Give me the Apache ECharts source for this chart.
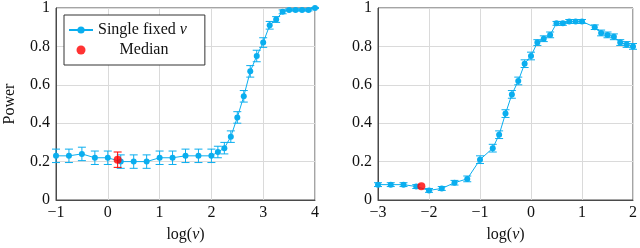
<!DOCTYPE html>
<html><head><meta charset="utf-8">
<script src="https://cdn.jsdelivr.net/npm/echarts@6/dist/echarts.min.js"></script>
<style>html,body{margin:0;padding:0;background:#fff}#c{width:640px;height:248px}</style>
</head><body><div id="c"></div>
<script>
// ---- data ----
const leftX = [-1,-0.75,-0.5,-0.25,0,0.25,0.5,0.75,1,1.25,1.5,1.75,2,2.125,2.25,2.375,2.5,2.625,2.75,2.875,3,3.125,3.25,3.375,3.5,3.625,3.75,3.875,4];
const leftY = [0.23,0.23,0.24,0.22,0.22,0.20,0.20,0.20,0.22,0.22,0.23,0.23,0.23,0.25,0.27,0.33,0.43,0.54,0.67,0.75,0.82,0.91,0.94,0.98,0.99,0.99,0.99,0.99,1.0];
const leftErr = [0.035,0.035,0.035,0.035,0.035,0.035,0.035,0.035,0.035,0.035,0.035,0.035,0.035,0.03,0.03,0.03,0.03,0.03,0.03,0.03,0.025,0.02,0.015,0.01,0.005,0.005,0.005,0.005,0.003];
const leftMedian = [0.19, 0.21, 0.04];
const rightX = [-3,-2.75,-2.5,-2.25,-2,-1.75,-1.5,-1.25,-1,-0.75,-0.625,-0.5,-0.375,-0.25,-0.125,0,0.125,0.25,0.375,0.5,0.625,0.75,0.875,1,1.25,1.375,1.5,1.625,1.75,1.875,2];
const rightY = [0.08,0.08,0.08,0.07,0.05,0.06,0.09,0.11,0.21,0.27,0.34,0.45,0.55,0.62,0.71,0.75,0.82,0.84,0.86,0.92,0.92,0.93,0.93,0.93,0.90,0.87,0.86,0.85,0.82,0.81,0.80];
const rightErr = [0.01,0.01,0.01,0.01,0.01,0.01,0.012,0.015,0.02,0.02,0.02,0.02,0.02,0.02,0.02,0.02,0.015,0.015,0.015,0.01,0.01,0.01,0.01,0.01,0.012,0.015,0.015,0.015,0.015,0.015,0.015];
const rightMedian = [-2.15, 0.071, 0.0];

const BLUE = '#0aaeef', RED = '#ff0000';
const FONT = "Liberation Serif";

function pairs(xs, ys){ return xs.map((x,i)=>[x, ys[i]]); }
function errData(xs, ys, es){ return xs.map((x,i)=>[x, ys[i]-es[i], ys[i]+es[i]]); }

function errRender(color){
  return function(params, api){
    const x = api.value(0), lo = api.value(1), hi = api.value(2);
    if (hi - lo < 0.004) return null;
    const a = api.coord([x, lo]), b = api.coord([x, hi]);
    const w = 4;
    const st = {stroke: color, lineWidth: 1};
    return {type:'group', children:[
      {type:'line', shape:{x1:a[0],y1:a[1],x2:b[0],y2:b[1]}, style:st},
      {type:'line', shape:{x1:a[0]-w,y1:a[1],x2:a[0]+w,y2:a[1]}, style:st},
      {type:'line', shape:{x1:b[0]-w,y1:b[1],x2:b[0]+w,y2:b[1]}, style:st}
    ]};
  };
}

const T = {fontFamily:FONT, fontSize:16, color:'#111'};
const rich = {
  n: Object.assign({}, T),
  i: Object.assign({fontStyle:'italic'}, T)
};
const fmtNum = v => { const r = +(+v).toFixed(1); return '{n|' + (r < 0 ? '\u2212' + Math.abs(r) : String(r)) + '}'; };

const axisCommon = {
  axisLine:{show:true, onZero:false, lineStyle:{color:'#4a4a4a', width:1}},
  axisTick:{show:false},
  splitLine:{show:true, lineStyle:{color:'#dadada', width:1}}
};

function xAxis(gi, min, max){
  return Object.assign({}, axisCommon, {
    type:'value', gridIndex:gi, min:min, max:max, interval:1,
    name:'{n|log(}{i|ν}{n|)}', nameLocation:'middle', nameGap:27,
    nameTextStyle:Object.assign({rich:rich}, T),
    axisLabel:Object.assign({margin:5, formatter:fmtNum, rich:rich}, T)
  });
}
function yAxis(gi, withName){
  return Object.assign({}, axisCommon, {
    type:'value', gridIndex:gi, min:0, max:1, interval:0.2,
    name: withName ? '{n|Power}' : '', nameLocation:'middle', nameGap:38,
    nameTextStyle:Object.assign({rich:rich}, T),
    axisLabel:Object.assign({margin:6, formatter:fmtNum, rich:rich}, T)
  });
}

const chart = echarts.init(document.getElementById('c'), null, {renderer:'canvas'});
chart.setOption({
  animation:false,
  textStyle:{fontFamily:FONT},
  grid:[
    {left:56, top:6, width:259, height:197, show:true, borderColor:'#4a4a4a', borderWidth:1, backgroundColor:'transparent'},
    {left:378, top:6, width:258, height:197, show:true, borderColor:'#4a4a4a', borderWidth:1, backgroundColor:'transparent'}
  ],
  xAxis:[xAxis(0,-1,4), xAxis(1,-3,2)],
  yAxis:[yAxis(0,true), yAxis(1,false)],
  legend:{
    left:64, top:15, orient:'vertical',
    backgroundColor:'#fff', borderColor:'#333', borderWidth:1, borderRadius:0,
    padding:[7,18,7,4], itemGap:4, itemWidth:24, itemHeight:9,
    data:['Single fixed ν','Median'],
    formatter: function(name){
      if (name === 'Median') return '{m|Median}';
      return '{n|Single fixed }{i|ν}';
    },
    textStyle:Object.assign({padding:0, rich:{
      n: Object.assign({}, T),
      i: Object.assign({fontStyle:'italic'}, T),
      m: Object.assign({width:92, align:'center'}, T)
    }}, T)
  },
  series:[
    {type:'custom', name:'errL', xAxisIndex:0, yAxisIndex:0, data:errData(leftX,leftY,leftErr), renderItem:errRender(BLUE), z:1, clip:false},
    {type:'line', name:'Single fixed ν', xAxisIndex:0, yAxisIndex:0, data:pairs(leftX,leftY),
      symbol:'circle', symbolSize:6, showAllSymbol:true, clip:false,
      lineStyle:{color:BLUE, width:1}, itemStyle:{color:BLUE}, z:2},
    {type:'custom', name:'errLM', xAxisIndex:0, yAxisIndex:0, data:[[leftMedian[0], leftMedian[1]-leftMedian[2], leftMedian[1]+leftMedian[2]]], renderItem:errRender(RED), z:3, clip:false},
    {type:'scatter', name:'Median', xAxisIndex:0, yAxisIndex:0, data:[[leftMedian[0], leftMedian[1]]],
      symbol:'circle', symbolSize:8, itemStyle:{color:RED}, z:4},
    {type:'custom', name:'errR', xAxisIndex:1, yAxisIndex:1, data:errData(rightX,rightY,rightErr), renderItem:errRender(BLUE), z:1, clip:false},
    {type:'line', name:'Single fixed ν', xAxisIndex:1, yAxisIndex:1, data:pairs(rightX,rightY),
      symbol:'circle', symbolSize:6, showAllSymbol:true, clip:false,
      lineStyle:{color:BLUE, width:1}, itemStyle:{color:BLUE}, z:2},
    {type:'scatter', name:'Median', xAxisIndex:1, yAxisIndex:1, data:[[rightMedian[0], rightMedian[1]]],
      symbol:'circle', symbolSize:8, itemStyle:{color:RED}, z:4}
  ]
});
</script></body></html>
